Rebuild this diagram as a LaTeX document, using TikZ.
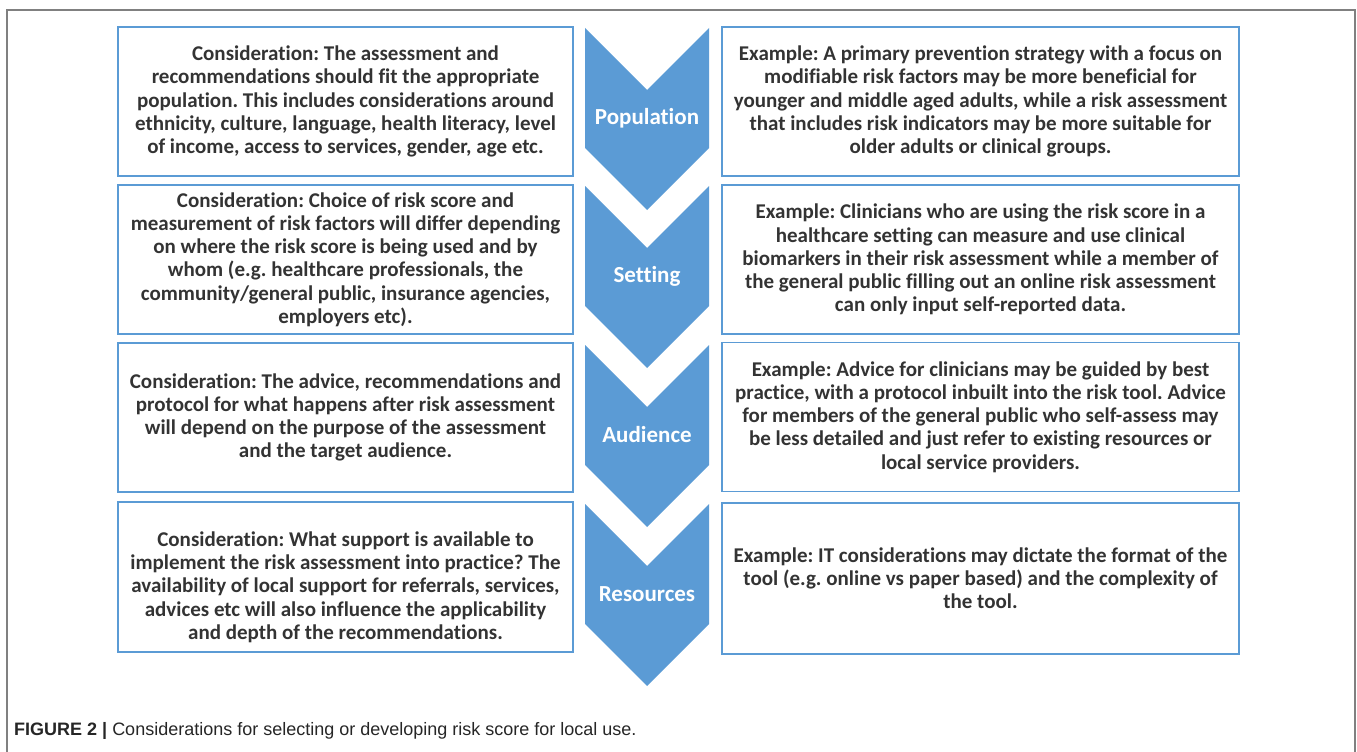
\documentclass[tikz,border=0pt]{standalone}
\usepackage{fontspec}
\setmainfont{Carlito}[Ligatures=NoCommon]
\newfontfamily\capfont{Liberation Sans}
\frenchspacing

\definecolor{chevblue}{HTML}{5B9BD5}
\definecolor{boxtext}{HTML}{333333}
\definecolor{framegray}{HTML}{808080}

\tikzset{
  infobox/.style={draw=chevblue,line width=1.6pt,align=center,inner sep=0pt,
    minimum height=149pt,text=boxtext,font=\fontsize{21}{23.2}\selectfont\bfseries},
  consbox/.style={infobox,minimum width=455pt},
  exbox/.style={infobox,minimum width=517pt},
  chevlabel/.style={text=white,inner sep=0pt,font=\fontsize{23}{26}\selectfont\bfseries}
}

\begin{document}
\begin{tikzpicture}[x=1pt,y=-1pt]
\useasboundingbox (0,0) rectangle (1357,752);

% frame, open at the bottom
\draw[framegray,line width=2pt] (7,752) -- (7,10) -- (1355,10) -- (1355,752);

% chevrons down the middle
\fill[chevblue] (585,28) -- (647,90) -- (709,28) -- (709,148) -- (647,210) -- (585,148) -- cycle;
\fill[chevblue] (585,186) -- (647,248) -- (709,186) -- (709,306) -- (647,368) -- (585,306) -- cycle;
\fill[chevblue] (585,345) -- (647,407) -- (709,345) -- (709,465) -- (647,527) -- (585,465) -- cycle;
\fill[chevblue] (585,504) -- (647,566) -- (709,504) -- (709,624) -- (647,686) -- (585,624) -- cycle;

\node[chevlabel] (population) at (647,118) {Population};
\node[chevlabel] (setting) at (647,276) {Setting};
\node[chevlabel] (audience) at (647,435) {Audience};
\node[chevlabel] (resources) at (647,594) {Resources};

% considerations (left)
\node[consbox] (cons1) at (345.5,101.5) {Consideration: The assessment and\\
recommendations should fit the appropriate\\
population. This includes considerations around\\
ethnicity, culture, language, health literacy, level\\
of income, access to services, gender, age etc.};

\node[consbox] (cons2) at (345.5,259.5) {Consideration: Choice of risk score and\\
measurement of risk factors will differ depending\\
on where the risk score is being used and by\\
whom (e.g. healthcare professionals, the\\
community/general public, insurance agencies,\\
employers etc).};

\node[consbox] (cons3) at (345.5,417.5) {Consideration: The advice, recommendations and\\
protocol for what happens after risk assessment\\
will depend on the purpose of the assessment\\
and the target audience.};

% text sits a little low in this one
\node[consbox,minimum height=150pt,text height=128pt] (cons4) at (345.5,577) {Consideration: What support is available to\\
implement the risk assessment into practice? The\\
availability of local support for referrals, services,\\
advices etc will also influence the applicability\\
and depth of the recommendations.};

% examples (right)
\node[exbox] (ex1) at (980.5,101.5) {Example: A primary prevention strategy with a focus on\\
modifiable risk factors may be more beneficial for\\
younger and middle aged adults, while a risk assessment\\
that includes risk indicators may be more suitable for\\
older adults or clinical groups.};

\node[exbox] (ex2) at (980.5,259.5) {Example: Clinicians who are using the risk score in a\\
healthcare setting can measure and use clinical\\
biomarkers in their risk assessment while a member of\\
the general public filling out an online risk assessment\\
can only input self-reported data.};

\node[exbox] (ex3) at (980.5,417) {Example: Advice for clinicians may be guided by best\\
practice, with a protocol inbuilt into the risk tool. Advice\\
for members of the general public who self-assess may\\
be less detailed and just refer to existing resources or\\
local service providers.};

\node[exbox,minimum height=151pt] (ex4) at (980.5,578.5) {Example: IT considerations may dictate the format of the\\
tool (e.g. online vs paper based) and the complexity of\\
the tool.};

% caption
\node[anchor=base west,inner sep=0pt,text=black!85,font=\capfont\fontsize{18}{22}\selectfont]
  (caption) at (14,735) {\textbf{FIGURE 2 |} Considerations for selecting or developing risk score for local use.};
\end{tikzpicture}
\end{document}
